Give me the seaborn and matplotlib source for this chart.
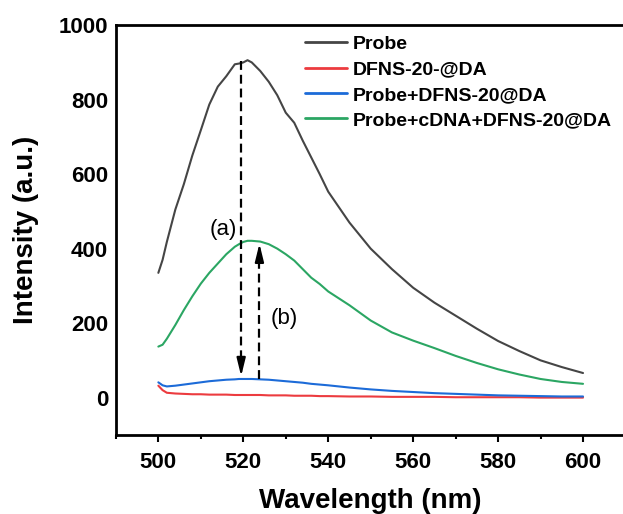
import pandas as pd
import matplotlib.pyplot as plt
import seaborn as sns

sns.set_theme(style="ticks")
plt.rcParams["font.family"] = ["Liberation Sans", "DejaVu Sans"]
plt.rcParams.update({"text.color": "black", "axes.labelcolor": "black",
                     "xtick.color": "black", "ytick.color": "black"})

GRAY = "#454545"
RED = "#ec3b3f"
BLUE = "#1c6bd8"
GREEN = "#2ba663"

WAVELENGTH = [500, 501, 502, 504, 506, 508, 510, 512, 514, 516, 518, 519, 520, 521, 522,
              524, 526, 528, 530, 532, 534, 536, 538, 540, 545, 550, 555, 560, 565, 570,
              575, 580, 585, 590, 595, 600]
PROBE = [335, 370, 418, 505, 573, 650, 718, 787, 835, 863, 895, 897, 900, 906, 900,
         877, 848, 812, 765, 738, 690, 645, 600, 553, 470, 400, 345, 295, 255, 220,
         185, 152, 125, 100, 82, 66]
DFNS = [32, 20, 13, 11, 10, 9, 9, 8, 8, 8, 7, 7, 7, 7, 7,
        7, 6, 6, 6, 5, 5, 5, 4, 4, 3, 3, 2, 2, 2, 1,
        1, 1, 1, 0, 0, 0]
PROBE_DFNS = [41, 33, 30, 32, 35, 38, 41, 44, 46, 48, 49, 50, 50, 50, 50,
              49, 48, 46, 44, 42, 40, 37, 35, 33, 27, 22, 18, 15, 12, 10,
              8, 6, 5, 4, 3, 3]
PROBE_CDNA_DFNS = [137, 142, 158, 195, 235, 272, 306, 335, 360, 385, 405, 412, 418, 421, 421,
                   419, 412, 400, 385, 368, 345, 322, 305, 285, 248, 207, 175, 153, 133, 112,
                   93, 76, 62, 50, 42, 37]

LABELS = ["Probe", "DFNS-20-@DA", "Probe+DFNS-20@DA", "Probe+cDNA+DFNS-20@DA"]
SERIES = [PROBE, DFNS, PROBE_DFNS, PROBE_CDNA_DFNS]

df = pd.concat(
    [pd.DataFrame({"wavelength": WAVELENGTH, "intensity": vals, "sample": lab})
     for lab, vals in zip(LABELS, SERIES)],
    ignore_index=True,
)

fig = plt.figure(figsize=(6.23, 5.14), dpi=100)
ax = fig.add_axes([0.186, 0.154, 0.818, 0.797])

sns.lineplot(data=df, x="wavelength", y="intensity", hue="sample", hue_order=LABELS,
             palette=[GRAY, RED, BLUE, GREEN], linewidth=1.5, ax=ax)

# dashed arrows (a) and (b)
HEAD = dict(arrowstyle="-|>,head_length=0.9,head_width=0.22", color="black", lw=1.5)
ax.plot([519.5, 519.5], [903, 80], ls=(0, (4, 2.2)), color="black", lw=1.6)
ax.annotate("", xy=(519.5, 50), xytext=(519.5, 95), arrowprops=HEAD)
ax.plot([523.8, 523.8], [50, 390], ls=(0, (4, 2.2)), color="black", lw=1.6)
ax.annotate("", xy=(523.8, 421), xytext=(523.8, 375), arrowprops=HEAD)
ax.text(515.2, 451, "(a)", fontsize=16, ha="center", va="center")
ax.text(529.6, 213, "(b)", fontsize=16, ha="center", va="center")

ax.set_xlim(490, 610)
ax.set_ylim(-100, 1000)
ax.set_xticks([500, 520, 540, 560, 580, 600])
ax.set_xticks([490, 510, 530, 550, 570, 590, 610], minor=True)
ax.set_yticks([0, 200, 400, 600, 800, 1000])
ax.tick_params(axis="x", which="major", length=5, width=1.5, direction="out", labelsize=16, pad=7)
ax.tick_params(axis="x", which="minor", length=3, width=1.5, direction="out")
ax.tick_params(axis="y", length=0, labelsize=16, pad=5.5)
for lab in ax.get_xticklabels() + ax.get_yticklabels():
    lab.set_fontweight("bold")
for side in ["left", "bottom", "top", "right"]:
    ax.spines[side].set_linewidth(2)
    ax.spines[side].set_color("black")

ax.set_xlabel("Wavelength (nm)", fontsize=20, fontweight="bold")
ax.set_ylabel("Intensity (a.u.)", fontsize=20, fontweight="bold")
ax.xaxis.set_label_coords(0.5, -0.13)
ax.yaxis.set_label_coords(-0.151, 0.5)

leg = ax.legend(loc="upper left", bbox_to_anchor=(0.355, 0.994), frameon=False,
                prop={"weight": "bold", "size": 14}, handlelength=2.2,
                handletextpad=0.3, labelspacing=0.4, borderaxespad=0)
for line in leg.get_lines():
    line.set_linewidth(2)

fig.savefig("out.png", dpi=100)
